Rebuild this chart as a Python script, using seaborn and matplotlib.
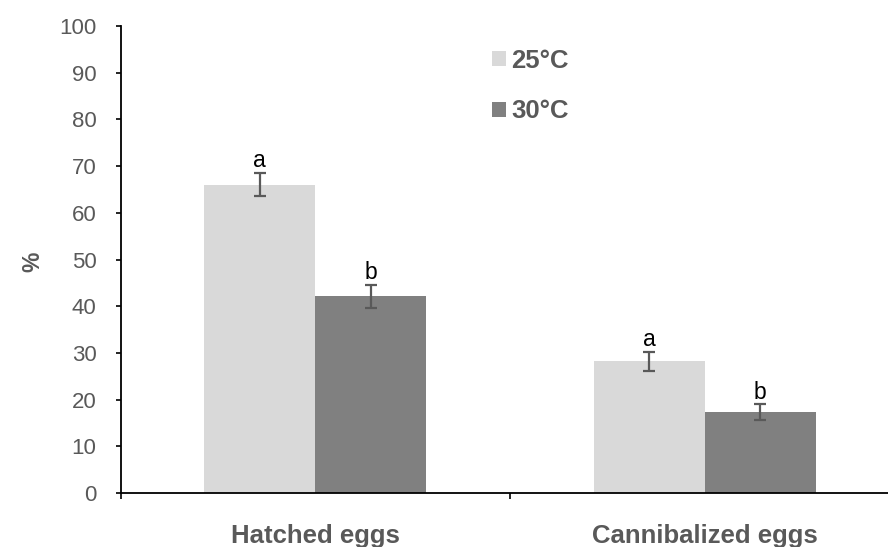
import matplotlib
matplotlib.use("Agg")
import matplotlib.pyplot as plt
import seaborn as sns
import pandas as pd
from matplotlib.ticker import FixedLocator, NullFormatter

categories = ["Hatched eggs", "Cannibalized eggs"]
temps = ["25°C", "30°C"]
values_25 = [66.0, 28.2]
values_30 = [42.1, 17.3]
err_25 = [2.5, 2.0]
err_30 = [2.4, 1.7]
letters_25 = ["a", "a"]
letters_30 = ["b", "b"]
colors = ["#D9D9D9", "#808080"]

rows = []
for i, c in enumerate(categories):
    rows.append({"cat": c, "temp": temps[0], "val": values_25[i], "err": err_25[i], "let": letters_25[i]})
    rows.append({"cat": c, "temp": temps[1], "val": values_30[i], "err": err_30[i], "let": letters_30[i]})
df = pd.DataFrame(rows)

sns.set_style("white")
plt.rcParams["font.family"] = ["Liberation Sans", "DejaVu Sans"]

fig = plt.figure(figsize=(8.88, 5.47), dpi=100)
ax = fig.add_axes([120.7/888, 54/547, 778.6/888, 467/547])

sns.barplot(data=df, x="cat", y="val", hue="temp", order=categories, hue_order=temps,
            palette=colors, width=0.57, errorbar=None, saturation=1, ax=ax, legend=False)

bar_containers = list(ax.containers)
for j, cont in enumerate(bar_containers):
    sub = df[df["temp"] == temps[j]].set_index("cat").loc[categories]
    for patch, (_, r) in zip(cont.patches, sub.iterrows()):
        patch.set_edgecolor("none")
        xc = patch.get_x() + patch.get_width() / 2
        h = patch.get_height()
        ax.errorbar(xc, h, yerr=r["err"], color="#595959", capsize=4.5, elinewidth=1.6,
                    capthick=1.6, fmt="none", zorder=3)
        ax.annotate(r["let"], (xc, h + r["err"]), xytext=(0, 0.5), textcoords="offset points",
                    ha="center", va="bottom", fontsize=16.5, color="black")

ax.set_ylim(0, 100)
ax.set_xlim(-0.5, 1.5)
ax.set_yticks(range(0, 101, 10))
ax.tick_params(axis="y", direction="out", length=3.5, width=1.2, color="black",
               labelsize=16, labelcolor="#595959", pad=14, left=True)
ax.tick_params(axis="x", which="major", length=0, labelsize=18.5, labelcolor="#595959", pad=22)
ax.xaxis.set_minor_locator(FixedLocator([-0.5, 0.5, 1.5]))
ax.xaxis.set_minor_formatter(NullFormatter())
ax.tick_params(axis="x", which="minor", direction="out", length=4.5, width=1.2, color="black", bottom=True)
for lab in ax.get_xticklabels():
    lab.set_fontweight("bold")

for s in ["top", "right"]:
    ax.spines[s].set_visible(False)
for s in ["left", "bottom"]:
    ax.spines[s].set_color("black")
    ax.spines[s].set_linewidth(1.3)

ax.set_xlabel("")
ax.set_ylabel("%", fontsize=16.5, fontweight="bold", color="#595959")
ax.yaxis.set_label_coords(-0.0985, 0.495)

handles = [plt.Rectangle((0, 0), 1, 1, facecolor=c, edgecolor="none") for c in colors]
leg = fig.legend(handles, temps, loc="center left", bbox_to_anchor=(491.7/888, 1 - 86/547),
                 frameon=False, borderpad=0, borderaxespad=0, handlelength=0.55, handleheight=0.55,
                 handletextpad=0.2, labelspacing=1.05,
                 prop={"size": 18.5, "weight": "bold", "family": ["Liberation Sans", "DejaVu Sans"]})
for t in leg.get_texts():
    t.set_color("#595959")

fig.savefig("out.png", dpi=100)
